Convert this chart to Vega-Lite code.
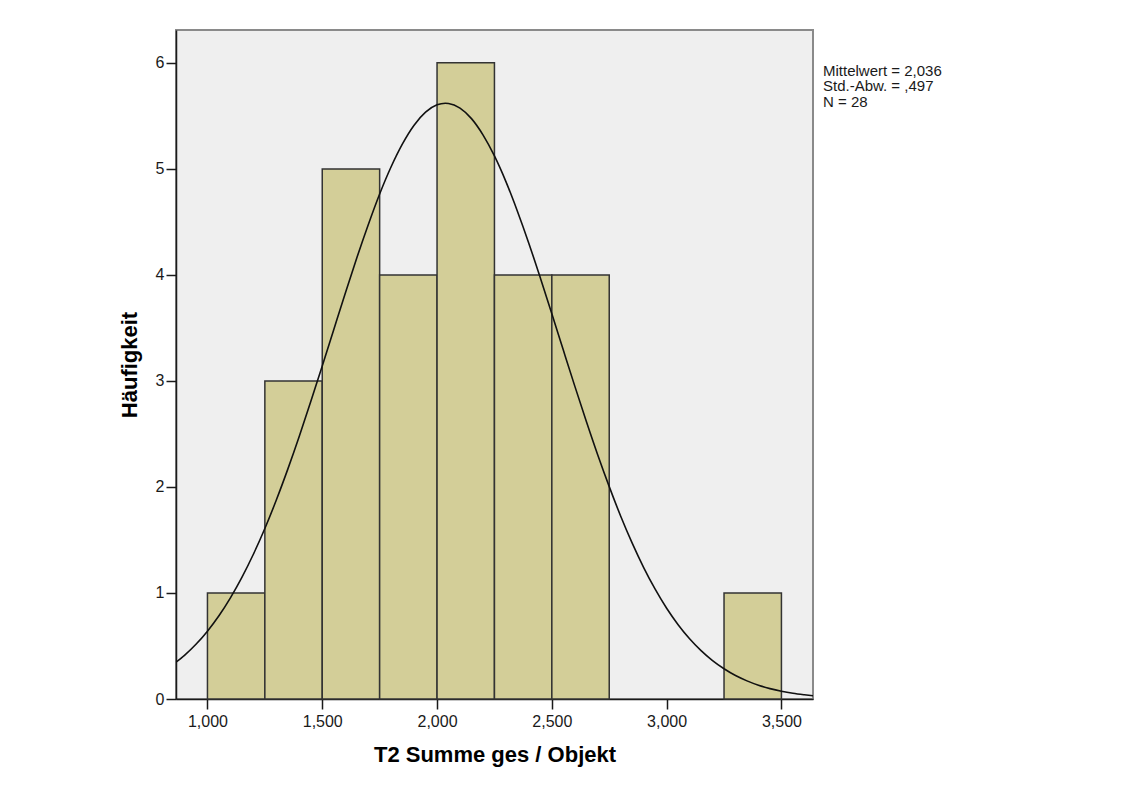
{
  "$schema": "https://vega.github.io/schema/vega-lite/v6.json",
  "autosize": "none",
  "width": 637,
  "height": 669,
  "padding": {"left": 176, "top": 30, "right": 323, "bottom": 97},
  "background": "#ffffff",
  "config": {
    "locale": {"number": {"decimal": ",", "thousands": ".", "grouping": [3], "currency": ["", " €"]}},
    "view": {"fill": "#efefef", "stroke": "#8a8a8a", "strokeWidth": 2},
    "font": "Liberation Sans",
    "axis": {
      "domainColor": "#1a1a1a",
      "domainWidth": 1.5,
      "tickColor": "#1a1a1a",
      "tickWidth": 1.5,
      "tickSize": 10,
      "grid": false,
      "labelFont": "Liberation Sans",
      "labelFontSize": 16,
      "labelColor": "#1a1a1a",
      "titleFont": "Liberation Sans",
      "titleFontSize": 22,
      "titleFontWeight": "bold",
      "titleColor": "#000000"
    }
  },
  "datasets": {
    "bins": [
      {"start": 1.0, "end": 1.25, "count": 1},
      {"start": 1.25, "end": 1.5, "count": 3},
      {"start": 1.5, "end": 1.75, "count": 5},
      {"start": 1.75, "end": 2.0, "count": 4},
      {"start": 2.0, "end": 2.25, "count": 6},
      {"start": 2.25, "end": 2.5, "count": 4},
      {"start": 2.5, "end": 2.75, "count": 4},
      {"start": 3.25, "end": 3.5, "count": 1}
    ],
    "curve": [
      {"x": 0.863, "y": 0.347},
      {"x": 0.9, "y": 0.412},
      {"x": 0.95, "y": 0.516},
      {"x": 1.0, "y": 0.640},
      {"x": 1.05, "y": 0.785},
      {"x": 1.1, "y": 0.954},
      {"x": 1.15, "y": 1.147},
      {"x": 1.2, "y": 1.365},
      {"x": 1.25, "y": 1.608},
      {"x": 1.3, "y": 1.877},
      {"x": 1.35, "y": 2.168},
      {"x": 1.4, "y": 2.478},
      {"x": 1.45, "y": 2.805},
      {"x": 1.5, "y": 3.141},
      {"x": 1.55, "y": 3.483},
      {"x": 1.6, "y": 3.824},
      {"x": 1.65, "y": 4.157},
      {"x": 1.7, "y": 4.471},
      {"x": 1.75, "y": 4.763},
      {"x": 1.8, "y": 5.020},
      {"x": 1.85, "y": 5.238},
      {"x": 1.9, "y": 5.412},
      {"x": 1.95, "y": 5.535},
      {"x": 2.0, "y": 5.604},
      {"x": 2.036, "y": 5.619},
      {"x": 2.05, "y": 5.617},
      {"x": 2.1, "y": 5.573},
      {"x": 2.15, "y": 5.474},
      {"x": 2.2, "y": 5.321},
      {"x": 2.25, "y": 5.122},
      {"x": 2.3, "y": 4.880},
      {"x": 2.35, "y": 4.601},
      {"x": 2.4, "y": 4.297},
      {"x": 2.45, "y": 3.971},
      {"x": 2.5, "y": 3.634},
      {"x": 2.55, "y": 3.291},
      {"x": 2.6, "y": 2.951},
      {"x": 2.65, "y": 2.620},
      {"x": 2.7, "y": 2.302},
      {"x": 2.75, "y": 2.003},
      {"x": 2.8, "y": 1.724},
      {"x": 2.85, "y": 1.470},
      {"x": 2.9, "y": 1.240},
      {"x": 2.95, "y": 1.036},
      {"x": 3.0, "y": 0.856},
      {"x": 3.05, "y": 0.701},
      {"x": 3.1, "y": 0.568},
      {"x": 3.15, "y": 0.456},
      {"x": 3.2, "y": 0.362},
      {"x": 3.25, "y": 0.285},
      {"x": 3.3, "y": 0.221},
      {"x": 3.35, "y": 0.171},
      {"x": 3.4, "y": 0.130},
      {"x": 3.45, "y": 0.098},
      {"x": 3.5, "y": 0.073},
      {"x": 3.55, "y": 0.054},
      {"x": 3.6, "y": 0.040},
      {"x": 3.6375, "y": 0.031}
    ],
    "stats": [
      {"label": ["Mittelwert = 2,036", "Std.-Abw. = ,497", "N = 28"], "x": 3.6375, "y": 6}
    ]
  },
  "layer": [
    {
      "data": {"name": "bins"},
      "mark": {"type": "rect", "fill": "#d3ce98", "stroke": "#333333", "strokeWidth": 1.5},
      "encoding": {
        "x": {
          "field": "start", "type": "quantitative",
          "scale": {"domain": [0.863, 3.6375], "nice": false, "zero": false},
          "axis": {
            "values": [1, 1.5, 2, 2.5, 3, 3.5],
            "format": ",.3f",
            "title": "T2 Summe ges / Objekt",
            "labelPadding": 4,
            "titlePadding": 15
          }
        },
        "x2": {"field": "end"},
        "y": {
          "field": "count", "type": "quantitative",
          "scale": {"domain": [0, 6.31], "nice": false},
          "axis": {
            "values": [0, 1, 2, 3, 4, 5, 6],
            "format": "d",
            "title": "Häufigkeit",
            "labelPadding": 2,
            "titlePadding": 14
          }
        },
        "y2": {"datum": 0}
      }
    },
    {
      "data": {"name": "curve"},
      "mark": {"type": "line", "color": "#111111", "strokeWidth": 1.6, "interpolate": "monotone", "clip": true},
      "encoding": {
        "x": {"field": "x", "type": "quantitative"},
        "y": {"field": "y", "type": "quantitative"}
      }
    },
    {
      "data": {"name": "stats"},
      "mark": {"type": "text", "align": "left", "baseline": "alphabetic", "dx": 10, "dy": 13, "fontSize": 15, "lineHeight": 15.5, "color": "#1a1a1a", "font": "Liberation Sans"},
      "encoding": {
        "x": {"field": "x", "type": "quantitative"},
        "y": {"field": "y", "type": "quantitative"},
        "text": {"field": "label"}
      }
    }
  ]
}
